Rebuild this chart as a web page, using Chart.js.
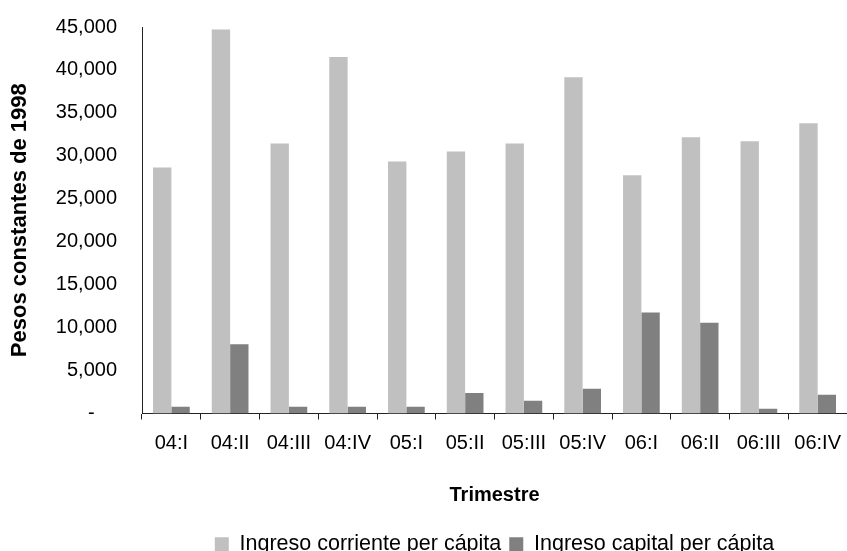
<!DOCTYPE html>
<html>
<head>
<meta charset="utf-8">
<script src="https://cdn.jsdelivr.net/npm/chart.js@4.4.1/dist/chart.umd.min.js"></script>
<style>
  html, body { margin: 0; padding: 0; overflow: hidden; background: #fff; }
</style>
</head>
<body>
<canvas id="grafico" width="853" height="551"></canvas>
<script>
// trimestres y valores (pesos constantes de 1998)
var trimestres = ['04:I', '04:II', '04:III', '04:IV', '05:I', '05:II', '05:III', '05:IV', '06:I', '06:II', '06:III', '06:IV'];
var ingresoCorriente = [28650, 44700, 31450, 41500, 29350, 30500, 31450, 39150, 27750, 32150, 31700, 33800];
var ingresoCapital = [780, 8050, 780, 780, 780, 2400, 1480, 2880, 11750, 10580, 550, 2180];
var ticksY = [0, 5000, 10000, 15000, 20000, 25000, 30000, 35000, 40000, 45000];

Chart.defaults.font.family = '"Liberation Sans", Arial, Helvetica, sans-serif';
Chart.defaults.color = '#000';

var ctx = document.getElementById('grafico').getContext('2d');
var grafico = new Chart(ctx, {
  type: 'bar',
  data: {
    labels: trimestres,
    datasets: [
      {
        label: 'Ingreso corriente per cápita',
        data: ingresoCorriente,
        backgroundColor: '#C0C0C0'
      },
      {
        label: 'Ingreso capital per cápita',
        data: ingresoCapital,
        backgroundColor: '#808080'
      }
    ]
  },
  options: {
    responsive: false,
    animation: false,
    layout: { padding: { top: 1, left: 0, right: 0, bottom: -14 } },
    datasets: {
      bar: { categoryPercentage: 0.625, barPercentage: 1.0 }
    },
    plugins: {
      tooltip: { enabled: false },
      legend: {
        position: 'bottom',
        fullSize: false,
        labels: {
          boxWidth: 14,
          boxHeight: 14,
          padding: 8,
          font: { size: 21.5 }
        }
      }
    },
    scales: {
      x: {
        afterFit: function (s) { s.height = 112; },
        grid: { display: true, drawOnChartArea: false, offset: true, tickLength: 6, color: '#222' },
        border: { display: true, color: '#222' },
        ticks: { font: { size: 20 }, padding: 12, maxRotation: 0, autoSkip: false },
        title: {
          display: true,
          text: 'Trimestre',
          font: { size: 20, weight: 'bold' },
          padding: { top: 4, bottom: 18 }
        }
      },
      y: {
        min: 0,
        max: 45000,
        afterBuildTicks: function (s) { s.ticks = ticksY.map(function (v) { return { value: v }; }); },
        afterFit: function (s) { s.width = 142; },
        grid: { display: false },
        border: { display: true, color: '#222' },
        ticks: {
          font: { size: 20, lineHeight: 1 },
          padding: 17,
          callback: function (v) { return v === 0 ? '-    ' : v.toLocaleString('en-US'); }
        },
        title: {
          display: true,
          text: 'Pesos constantes de 1998',
          font: { size: 22, weight: 'bold' },
          padding: { top: 7, bottom: 0 }
        }
      }
    }
  }
});
</script>
</body>
</html>
